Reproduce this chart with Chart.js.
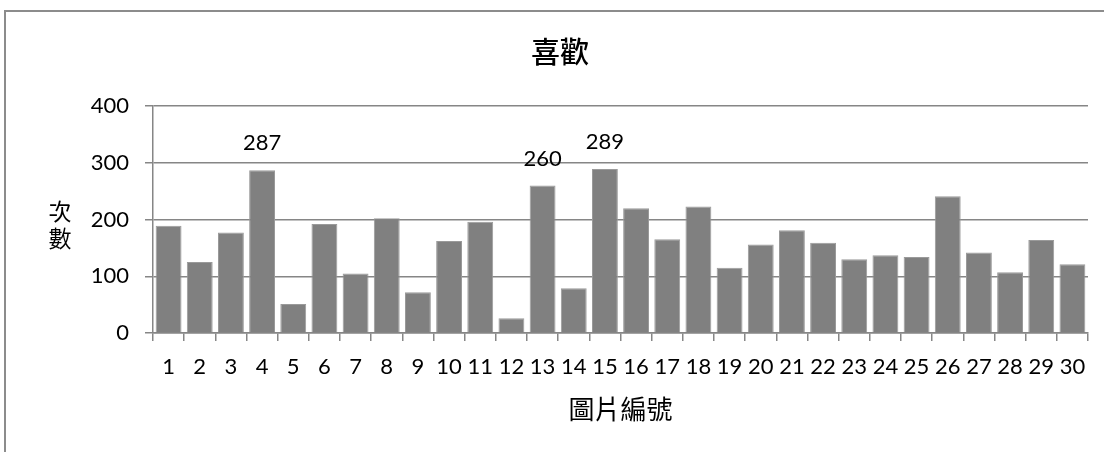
<!DOCTYPE html>
<html>
<head>
<meta charset="utf-8">
<title>喜歡</title>
<script src="https://cdn.jsdelivr.net/npm/chart.js@4"></script>
<style>
  html, body { margin: 0; padding: 0; background: #fff; }
  #box { width: 1104px; height: 452px; }
</style>
</head>
<body>
<div id="box"><canvas id="likeChart" width="1104" height="452"></canvas></div>
<script>
  'use strict'

  // picture numbers and how many times each one was liked
  const pictureIds = ['1', '2', '3', '4', '5', '6', '7', '8', '9', '10',
    '11', '12', '13', '14', '15', '16', '17', '18', '19', '20',
    '21', '22', '23', '24', '25', '26', '27', '28', '29', '30'];
  const likeCounts = [189, 125, 177, 287, 51, 192, 105, 202, 72, 162,
    196, 26, 260, 79, 289, 220, 165, 223, 115, 156,
    181, 159, 130, 137, 134, 241, 142, 107, 164, 121];
  // only these pictures get their count printed above the bar
  const labeledIds = ['4', '13', '15'];
  const yTicks = [0, 100, 200, 300, 400];

  const chartTitle = '喜歡';
  const yTitle = ['次', '數'];
  const xTitle = '圖片編號';

  const latin = 'Lato, "Noto Sans", sans-serif';
  const cjk = '"Noto Sans CJK TC", "Noto Sans CJK SC", sans-serif';
  const lineGray = '#868686';

  // frame, title and the stacked y title
  const decorPlugin = {
    id: 'decor',
    beforeDraw(chart) {
      const c = chart.ctx;
      c.save();
      c.strokeStyle = '#8c8c8c';
      c.lineWidth = 2;
      c.beginPath();
      c.moveTo(5, chart.height);
      c.lineTo(5, 11);
      c.lineTo(chart.width, 11);
      c.stroke();
      c.restore();
    },
    afterDraw(chart) {
      const c = chart.ctx;
      c.save();
      c.fillStyle = '#000';
      c.textAlign = 'center';
      c.textBaseline = 'middle';
      c.font = '500 29px ' + cjk;
      c.fillText(chartTitle, 560, 52);
      c.font = '23px ' + cjk;
      yTitle.forEach((ch, i) => c.fillText(ch, 60, 211 + i * 27));
      c.restore();
    }
  };

  // value text over the selected bars
  const valueLabelPlugin = {
    id: 'valueLabels',
    afterDatasetsDraw(chart) {
      const c = chart.ctx;
      const meta = chart.getDatasetMeta(0);
      c.save();
      c.fillStyle = '#000';
      c.font = '22px ' + latin;
      c.textAlign = 'center';
      c.textBaseline = 'middle';
      pictureIds.forEach((id, i) => {
        if (!labeledIds.includes(id)) return;
        const bar = meta.data[i];
        c.fillText(String(likeCounts[i]), bar.x, bar.y - 27);
      });
      c.restore();
    }
  };

  const ctx = document.getElementById('likeChart');
  const likeChart = new Chart(ctx, {
    type: 'bar',
    data: {
      labels: pictureIds,
      datasets: [{
        data: likeCounts,
        backgroundColor: '#808080',
        borderColor: '#9a9a9a',
        borderWidth: 1,
        barPercentage: 0.83,
        categoryPercentage: 1
      }]
    },
    options: {
      responsive: false,
      animation: false,
      layout: { padding: { top: 106, left: 0, right: 16, bottom: 0 } },
      plugins: {
        legend: { display: false },
        tooltip: { enabled: false },
        title: { display: false }
      },
      scales: {
        x: {
          offset: true,
          grid: {
            offset: true,
            drawOnChartArea: false,
            drawTicks: true,
            tickLength: 8,
            color: lineGray,
            lineWidth: 1.5
          },
          border: { display: true, color: lineGray, width: 1.5 },
          ticks: {
            color: '#000',
            font: { family: latin, size: 22 },
            padding: 13,
            maxRotation: 0,
            autoSkip: false
          },
          title: {
            display: true,
            text: xTitle,
            color: '#000',
            font: { family: cjk, size: 26 },
            padding: { top: 0, bottom: 27 }
          },
          afterFit(scale) { scale.height = 119; }
        },
        y: {
          min: 0,
          max: 400,
          afterBuildTicks(scale) { scale.ticks = yTicks.map(v => ({ value: v })); },
          grid: {
            color: lineGray,
            lineWidth: 1.5,
            drawTicks: true,
            tickLength: 8
          },
          border: { display: true, color: lineGray, width: 1.5 },
          ticks: {
            color: '#000',
            font: { family: latin, size: 22 },
            padding: 16
          },
          afterFit(scale) { scale.width = 153; }
        }
      }
    },
    plugins: [decorPlugin, valueLabelPlugin]
  });
</script>
</body>
</html>
